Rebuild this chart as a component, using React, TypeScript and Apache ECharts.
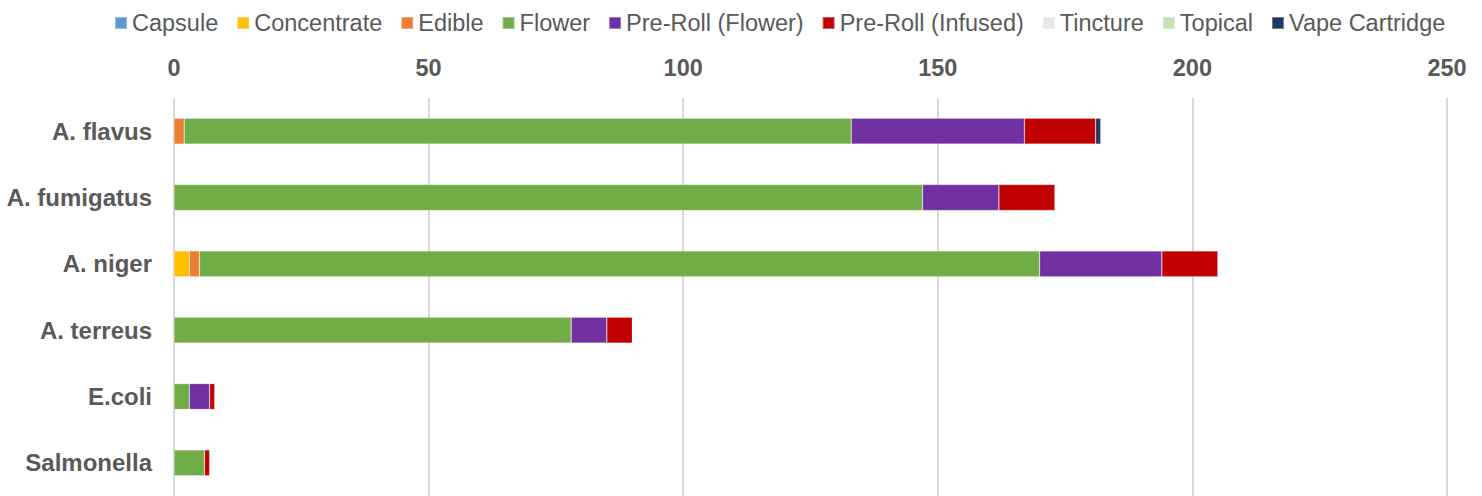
import React, { useEffect, useRef } from "react";
import * as echarts from "echarts";

const categories = ["A. flavus", "A. fumigatus", "A. niger", "A. terreus", "E.coli", "Salmonella"];
const xTicks = [0, 50, 100, 150, 200, 250];

const capsule = [0, 0, 0, 0, 0, 0];
const concentrate = [0, 0, 3, 0, 0, 0];
const edible = [2, 0, 2, 0, 0, 0];
const flower = [131, 147, 165, 78, 3, 6];
const preRollFlower = [34, 15, 24, 7, 4, 0];
const preRollInfused = [14, 11, 11, 5, 1, 1];
const tincture = [0, 0, 0, 0, 0, 0];
const topical = [0, 0, 0, 0, 0, 0];
const vapeCartridge = [1, 0, 0, 0, 0, 0];

const seriesDefs = [
  { name: "Capsule", data: capsule, color: "#5b9bd5" },
  { name: "Concentrate", data: concentrate, color: "#ffc000" },
  { name: "Edible", data: edible, color: "#ed7d31" },
  { name: "Flower", data: flower, color: "#70ad47" },
  { name: "Pre-Roll (Flower)", data: preRollFlower, color: "#7030a0" },
  { name: "Pre-Roll (Infused)", data: preRollInfused, color: "#c00000" },
  { name: "Tincture", data: tincture, color: "#e7e6e6" },
  { name: "Topical", data: topical, color: "#c5e0b4" },
  { name: "Vape Cartridge", data: vapeCartridge, color: "#203864" },
];

const FONT = "'Liberation Sans', Arial, Helvetica, sans-serif";
const TEXT = "#595959";

export default function App() {
  const ref = useRef<HTMLDivElement>(null);
  useEffect(() => {
    if (!ref.current) return;
    const chart = echarts.init(ref.current, undefined, { renderer: "svg" });
    chart.setOption({
      animation: false,
      backgroundColor: "#ffffff",
      textStyle: { fontFamily: FONT },
      legend: {
        left: 109,
        top: 6,
        itemWidth: 12,
        itemHeight: 12,
        itemGap: 18,
        icon: "rect",
        textStyle: { fontSize: 23.5, color: TEXT, fontFamily: FONT },
        data: seriesDefs.map((s) => s.name),
      },
      grid: { left: 174, right: 35, top: 98, bottom: 0, containLabel: false },
      xAxis: {
        type: "value",
        position: "top",
        min: xTicks[0],
        max: xTicks[xTicks.length - 1],
        interval: xTicks[1] - xTicks[0],
        axisLine: { show: false },
        axisTick: { show: false },
        axisLabel: {
          margin: 18,
          fontSize: 23.5,
          fontWeight: "bold",
          color: TEXT,
          fontFamily: FONT,
        },
        splitLine: { show: true, lineStyle: { color: "#d9d9d9", width: 2 } },
      },
      yAxis: {
        type: "category",
        inverse: true,
        data: categories,
        axisLine: { show: false },
        axisTick: { show: false },
        axisLabel: {
          margin: 22,
          fontSize: 24,
          fontWeight: "bold",
          color: TEXT,
          fontFamily: FONT,
        },
      },
      series: seriesDefs.map((s) => ({
        name: s.name,
        type: "bar",
        stack: "total",
        barWidth: "39%",
        itemStyle: { color: s.color, borderColor: "rgba(255,255,255,0.35)", borderWidth: 0.6 },
        data: s.data.map((v) => (v === 0 ? "-" : v)),
      })),
    });
    return () => chart.dispose();
  }, []);
  return (
    <div
      ref={ref}
      style={{ position: "fixed", left: 0, top: 0, width: 1482, height: 496 }}
    />
  );
}
